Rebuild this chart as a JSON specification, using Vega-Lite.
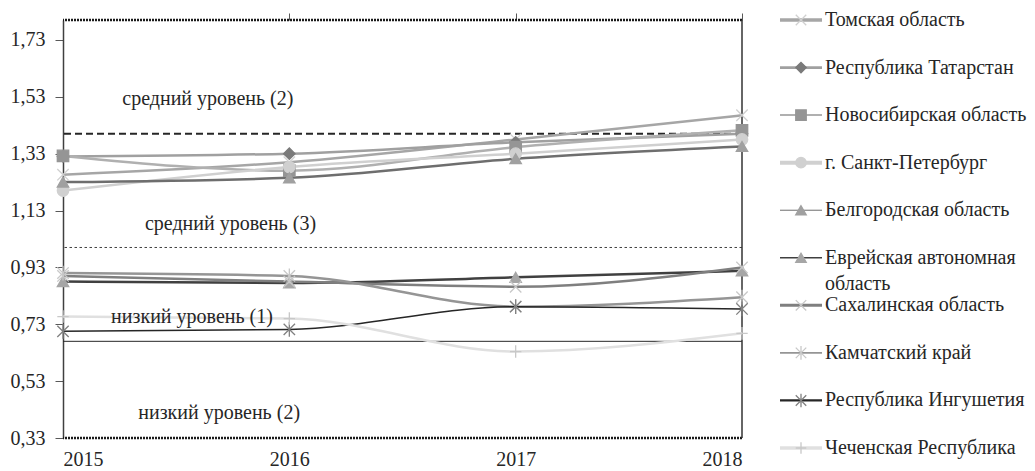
{
  "$schema": "https://vega.github.io/schema/vega-lite/v6.json",
  "padding": {"top": 10, "left": 10, "right": 0, "bottom": 0},
  "background": "white",
  "bounds": "flush",
  "spacing": 38,
  "config": {
    "view": {"stroke": null},
    "font": "Liberation Serif",
    "axis": {"labelFont": "Liberation Serif"},
    "text": {"font": "Liberation Serif"}
  },
  "datasets": {
    "series": [
      {"region": "Томская область", "year": 2015, "value": 1.256},
      {"region": "Томская область", "year": 2016, "value": 1.3},
      {"region": "Томская область", "year": 2017, "value": 1.38},
      {"region": "Томская область", "year": 2018, "value": 1.465},
      {"region": "Республика Татарстан", "year": 2015, "value": 1.32},
      {"region": "Республика Татарстан", "year": 2016, "value": 1.33},
      {"region": "Республика Татарстан", "year": 2017, "value": 1.37},
      {"region": "Республика Татарстан", "year": 2018, "value": 1.4},
      {"region": "Новосибирская область", "year": 2015, "value": 1.322},
      {"region": "Новосибирская область", "year": 2016, "value": 1.27},
      {"region": "Новосибирская область", "year": 2017, "value": 1.353},
      {"region": "Новосибирская область", "year": 2018, "value": 1.412},
      {"region": "г. Санкт-Петербург", "year": 2015, "value": 1.2},
      {"region": "г. Санкт-Петербург", "year": 2016, "value": 1.283},
      {"region": "г. Санкт-Петербург", "year": 2017, "value": 1.33},
      {"region": "г. Санкт-Петербург", "year": 2018, "value": 1.38},
      {"region": "Белгородская область", "year": 2015, "value": 1.23},
      {"region": "Белгородская область", "year": 2016, "value": 1.245},
      {"region": "Белгородская область", "year": 2017, "value": 1.312},
      {"region": "Белгородская область", "year": 2018, "value": 1.355},
      {"region": "Еврейская автономная область", "year": 2015, "value": 0.88},
      {"region": "Еврейская автономная область", "year": 2016, "value": 0.875},
      {"region": "Еврейская автономная область", "year": 2017, "value": 0.895},
      {"region": "Еврейская автономная область", "year": 2018, "value": 0.918},
      {"region": "Сахалинская область", "year": 2015, "value": 0.9},
      {"region": "Сахалинская область", "year": 2016, "value": 0.88},
      {"region": "Сахалинская область", "year": 2017, "value": 0.862},
      {"region": "Сахалинская область", "year": 2018, "value": 0.93},
      {"region": "Камчатский край", "year": 2015, "value": 0.91},
      {"region": "Камчатский край", "year": 2016, "value": 0.9},
      {"region": "Камчатский край", "year": 2017, "value": 0.792},
      {"region": "Камчатский край", "year": 2018, "value": 0.825},
      {"region": "Республика Ингушетия", "year": 2015, "value": 0.705},
      {"region": "Республика Ингушетия", "year": 2016, "value": 0.712},
      {"region": "Республика Ингушетия", "year": 2017, "value": 0.792},
      {"region": "Республика Ингушетия", "year": 2018, "value": 0.784},
      {"region": "Чеченская Республика", "year": 2015, "value": 0.757},
      {"region": "Чеченская Республика", "year": 2016, "value": 0.75},
      {"region": "Чеченская Республика", "year": 2017, "value": 0.634},
      {"region": "Чеченская Республика", "year": 2018, "value": 0.698}
    ],
    "notes": [
      {"x": 2015.64, "y": 1.523, "label": "средний уровень (2)"},
      {"x": 2015.74, "y": 1.083, "label": "средний уровень (3)"},
      {"x": 2015.57, "y": 0.757, "label": "низкий уровень (1)"},
      {"x": 2015.69, "y": 0.418, "label": "низкий уровень (2)"}
    ],
    "levels": [
      {"level": 1.8, "kind": "top"},
      {"level": 1.4, "kind": "dash"},
      {"level": 1.0, "kind": "dot"},
      {"level": 0.67, "kind": "solid"},
      {"level": 0.33, "kind": "bottom"}
    ],
    "legend": [
      {"region": "Томская область", "label": "Томская область"},
      {"region": "Республика Татарстан", "label": "Республика Татарстан"},
      {"region": "Новосибирская область", "label": "Новосибирская область"},
      {"region": "г. Санкт-Петербург", "label": "г. Санкт-Петербург"},
      {"region": "Белгородская область", "label": "Белгородская область"},
      {"region": "Еврейская автономная область", "label": "Еврейская автономная\nобласть"},
      {"region": "Сахалинская область", "label": "Сахалинская область"},
      {"region": "Камчатский край", "label": "Камчатский край"},
      {"region": "Республика Ингушетия", "label": "Республика Ингушетия"},
      {"region": "Чеченская Республика", "label": "Чеченская Республика"}
    ]
  },
  "hconcat": [
    {
      "width": 679,
      "height": 418,
      "resolve": {"axis": {"x": "independent"}},
      "layer": [
        {
          "data": {"name": "levels"},
          "transform": [{"filter": "datum.kind === 'top' || datum.kind === 'bottom'"}],
          "mark": {"type": "rule", "stroke": "#1a1a1a", "strokeWidth": 2.5, "strokeDash": [2, 1]},
          "encoding": {"y": {"field": "level", "type": "quantitative", "scale": {"domain": [0.33, 1.8], "nice": false, "zero": false}}}
        },
        {
          "data": {"name": "levels"},
          "transform": [{"filter": "datum.kind === 'dash'"}],
          "mark": {"type": "rule", "stroke": "#262626", "strokeWidth": 2, "strokeDash": [7, 4]},
          "encoding": {"y": {"field": "level", "type": "quantitative"}}
        },
        {
          "data": {"name": "levels"},
          "transform": [{"filter": "datum.kind === 'dot'"}],
          "mark": {"type": "rule", "stroke": "#404040", "strokeWidth": 1, "strokeDash": [2.5, 2.5]},
          "encoding": {"y": {"field": "level", "type": "quantitative"}}
        },
        {
          "data": {"name": "levels"},
          "transform": [{"filter": "datum.kind === 'solid'"}],
          "mark": {"type": "rule", "stroke": "#262626", "strokeWidth": 1},
          "encoding": {"y": {"field": "level", "type": "quantitative"}}
        },
        {
          "data": {"values": [{"year": 2018, "lo": 0.33, "hi": 1.8}]},
          "mark": {"type": "rule", "stroke": "#333333", "strokeWidth": 1.5},
          "encoding": {
            "x": {"field": "year", "type": "quantitative",
              "axis": {"orient": "top", "labels": false, "domain": false, "ticks": true, "tickSize": 7, "tickColor": "#595959", "values": [2016, 2017, 2018], "grid": false, "title": null}},
            "y": {"field": "lo", "type": "quantitative"},
            "y2": {"field": "hi"}
          }
        },
        {
          "data": {"name": "series"},
          "mark": {"type": "line", "interpolate": "monotone"},
          "encoding": {
            "x": {"field": "year", "type": "quantitative",
              "scale": {"domain": [2015, 2018], "nice": false, "zero": false},
              "axis": {"values": [2015, 2016, 2017, 2018], "format": "d", "domain": false, "ticks": false, "grid": false, "labelPadding": 11, "labelFontSize": 20, "labelColor": "#262626", "title": null}},
            "y": {"field": "value", "type": "quantitative",
              "axis": {"values": [0.33, 0.53, 0.73, 0.93, 1.13, 1.33, 1.53, 1.73], "labelExpr": "replace(format(datum.value, '.2f'), '.', ',')", "grid": false, "domain": true, "domainColor": "#404040", "domainWidth": 1.5, "ticks": true, "tickSize": 8, "tickColor": "#595959", "labelPadding": 10, "labelFontSize": 20, "labelColor": "#262626", "title": null}},
            "color": {"field": "region", "type": "nominal", "legend": null,
              "scale": {"domain": ["Томская область","Республика Татарстан","Новосибирская область","г. Санкт-Петербург","Белгородская область","Еврейская автономная область","Сахалинская область","Камчатский край","Республика Ингушетия","Чеченская Республика"],
                "range": ["#a6a6a6","#a0a0a0","#b0b0b0","#d0d0d0","#6e6e6e","#404040","#7f7f7f","#959595","#262626","#e0e0e0"]}},
            "strokeWidth": {"field": "region", "type": "nominal", "legend": null,
              "scale": {"type": "ordinal", "domain": ["Томская область","Республика Татарстан","Новосибирская область","г. Санкт-Петербург","Белгородская область","Еврейская автономная область","Сахалинская область","Камчатский край","Республика Ингушетия","Чеченская Республика"],
                "range": [2.5, 2.5, 2.5, 2.5, 2.5, 2.5, 2.5, 2.5, 1.5, 2.5]}}
          }
        },
        {
          "data": {"name": "series"},
          "mark": {"type": "point", "filled": true, "opacity": 1, "size": 130, "strokeWidth": 1.3},
          "encoding": {
            "x": {"field": "year", "type": "quantitative", "axis": null},
            "y": {"field": "value", "type": "quantitative"},
            "shape": {"field": "region", "type": "nominal", "legend": null,
              "scale": {"domain": ["Томская область","Республика Татарстан","Новосибирская область","г. Санкт-Петербург","Белгородская область","Еврейская автономная область","Сахалинская область","Камчатский край","Республика Ингушетия","Чеченская Республика"],
                "range": ["M-1,-1L1,1M-1,1L1,-1","diamond","square","circle","triangle-up","triangle-up","M-1,-1L1,1M-1,1L1,-1","M-1,-1L1,1M-1,1L1,-1M0,-1.3L0,1.3","M-1,-1L1,1M-1,1L1,-1M0,-1.3L0,1.3","M-1,0L1,0M0,-1.1L0,1.1"]}},
            "fill": {"field": "region", "type": "nominal", "legend": null,
              "scale": {"domain": ["Томская область","Республика Татарстан","Новосибирская область","г. Санкт-Петербург","Белгородская область","Еврейская автономная область","Сахалинская область","Камчатский край","Республика Ингушетия","Чеченская Республика"],
                "range": ["transparent","#7a7a7a","#959595","#d0d0d0","#a0a0a0","#a6a6a6","transparent","transparent","transparent","transparent"]}},
            "stroke": {"field": "region", "type": "nominal", "legend": null,
              "scale": {"domain": ["Томская область","Республика Татарстан","Новосибирская область","г. Санкт-Петербург","Белгородская область","Еврейская автономная область","Сахалинская область","Камчатский край","Республика Ингушетия","Чеченская Республика"],
                "range": ["#d0d0d0","#7a7a7a","#959595","#d0d0d0","#a0a0a0","#a6a6a6","#c8c8c8","#c8c8c8","#808080","#c8c8c8"]}}
          }
        },
        {
          "data": {"name": "notes"},
          "mark": {"type": "text", "fontSize": 20, "color": "#262626", "align": "center", "baseline": "middle"},
          "encoding": {
            "x": {"field": "x", "type": "quantitative", "axis": null},
            "y": {"field": "y", "type": "quantitative"},
            "text": {"field": "label"}
          }
        }
      ]
    },
    {
      "width": 42,
      "height": 428,
      "data": {"name": "legend"},
      "encoding": {
        "y": {"field": "region", "type": "nominal", "axis": null,
          "scale": {"type": "point", "padding": 0, "domain": ["Томская область","Республика Татарстан","Новосибирская область","г. Санкт-Петербург","Белгородская область","Еврейская автономная область","Сахалинская область","Камчатский край","Республика Ингушетия","Чеченская Республика"]}}
      },
      "layer": [
        {
          "mark": {"type": "rule"},
          "encoding": {
            "x": {"datum": 0, "type": "quantitative", "scale": {"domain": [0, 1], "nice": false, "zero": false}, "axis": null},
            "x2": {"datum": 1},
            "color": {"field": "region", "type": "nominal", "legend": null},
            "strokeWidth": {"field": "region", "type": "nominal", "legend": null}
          }
        },
        {
          "mark": {"type": "point", "filled": true, "opacity": 1, "size": 110, "strokeWidth": 1.3},
          "encoding": {
            "x": {"datum": 0.5, "type": "quantitative"},
            "shape": {"field": "region", "type": "nominal", "legend": null},
            "fill": {"field": "region", "type": "nominal", "legend": null},
            "stroke": {"field": "region", "type": "nominal", "legend": null}
          }
        },
        {
          "mark": {"type": "text", "fontSize": 20, "color": "#262626", "align": "left", "baseline": "middle", "dx": 3, "lineBreak": "\n", "lineHeight": 26},
          "encoding": {
            "x": {"datum": 1, "type": "quantitative"},
            "text": {"field": "label"}
          }
        }
      ]
    }
  ]
}
